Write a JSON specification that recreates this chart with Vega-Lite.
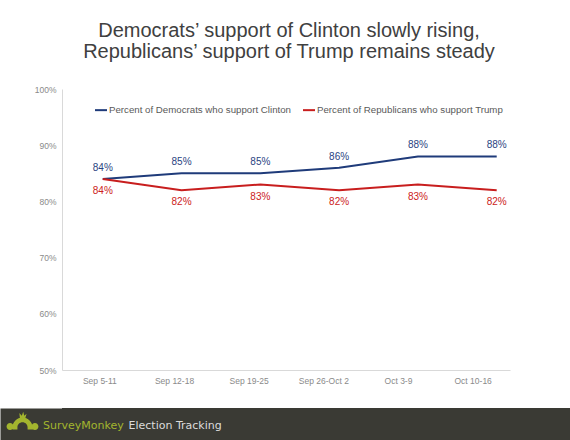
{
  "$schema": "https://vega.github.io/schema/vega-lite/v6.json",
  "background": "white",
  "padding": {"left": 0, "top": 21, "right": 0, "bottom": 0},
  "spacing": 23,
  "columns": 1,
  "align": "none",
  "resolve": {"scale": {"x": "independent", "y": "independent", "color": "independent"}},
  "config": {
    "view": {"stroke": null},
    "font": "Liberation Sans"
  },
  "datasets": {
    "poll": [
      {"week": "Sep 5-11", "series": "Percent of Democrats who support Clinton", "value": 0.84},
      {"week": "Sep 12-18", "series": "Percent of Democrats who support Clinton", "value": 0.85},
      {"week": "Sep 19-25", "series": "Percent of Democrats who support Clinton", "value": 0.85},
      {"week": "Sep 26-Oct 2", "series": "Percent of Democrats who support Clinton", "value": 0.86},
      {"week": "Oct 3-9", "series": "Percent of Democrats who support Clinton", "value": 0.88},
      {"week": "Oct 10-16", "series": "Percent of Democrats who support Clinton", "value": 0.88},
      {"week": "Sep 5-11", "series": "Percent of Republicans who support Trump", "value": 0.84},
      {"week": "Sep 12-18", "series": "Percent of Republicans who support Trump", "value": 0.82},
      {"week": "Sep 19-25", "series": "Percent of Republicans who support Trump", "value": 0.83},
      {"week": "Sep 26-Oct 2", "series": "Percent of Republicans who support Trump", "value": 0.82},
      {"week": "Oct 3-9", "series": "Percent of Republicans who support Trump", "value": 0.83},
      {"week": "Oct 10-16", "series": "Percent of Republicans who support Trump", "value": 0.82}
    ],
    "footer": [
      {"item": "logo"},
      {"item": "SurveyMonkey"},
      {"item": "Election Tracking"}
    ]
  },
  "concat": [
    {
      "width": 448,
      "height": 281,
      "data": {"name": "poll"},
      "title": {
        "text": ["Democrats’ support of Clinton slowly rising,", "Republicans’ support of Trump remains steady"],
        "fontSize": 20,
        "fontWeight": "normal",
        "font": "Liberation Sans",
        "color": "#404040",
        "lineHeight": 21,
        "anchor": "middle",
        "dx": 3,
        "offset": 23
      },
      "resolve": {"scale": {"x": "independent"}},
      "layer": [
        {
          "mark": {"type": "point", "opacity": 0},
          "encoding": {
            "x": {
              "field": "week", "type": "nominal",
              "sort": ["Sep 5-11", "Sep 12-18", "Sep 19-25", "Sep 26-Oct 2", "Oct 3-9", "Oct 10-16"],
              "scale": {"type": "point", "padding": 0.5},
              "axis": {
                "title": null, "ticks": false, "labelPadding": 6, "labelFontSize": 8.5,
                "labelColor": "#8a8a8a", "domainColor": "#d9d9d9", "labelAngle": 0,
                "labelFont": "Liberation Sans"
              }
            },
            "y": {
              "field": "value", "type": "quantitative",
              "scale": {"domain": [0.5, 1.0], "nice": false, "zero": false},
              "axis": {
                "title": null, "values": [0.5, 0.6, 0.7, 0.8, 0.9, 1.0], "format": ".0%",
                "grid": false, "ticks": false, "labelPadding": 6, "labelFontSize": 8.5,
                "labelColor": "#8a8a8a", "domainColor": "#d9d9d9", "minExtent": 62,
                "labelFont": "Liberation Sans"
              }
            }
          }
        },
        {
          "encoding": {
            "x": {
              "field": "week", "type": "nominal",
              "sort": ["Sep 5-11", "Sep 12-18", "Sep 19-25", "Sep 26-Oct 2", "Oct 3-9", "Oct 10-16"],
              "scale": {"type": "point", "padding": 0.343, "align": 0.754},
              "axis": null
            },
            "y": {"field": "value", "type": "quantitative"}
          },
          "layer": [
            {
              "mark": {"type": "line", "strokeWidth": 2},
              "encoding": {
                "color": {
                  "field": "series", "type": "nominal",
                  "scale": {
                    "domain": ["Percent of Democrats who support Clinton", "Percent of Republicans who support Trump"],
                    "range": ["#1f3b7a", "#c81e1e"]
                  },
                  "legend": {
                    "title": null, "orient": "none", "direction": "horizontal",
                    "legendX": 32, "legendY": 14,
                    "symbolType": "stroke", "symbolSize": 144, "symbolStrokeWidth": 2,
                    "labelFontSize": 9.7, "labelColor": "#595959", "labelOffset": 1,
                    "columnPadding": 8, "labelFont": "Liberation Sans", "labelLimit": 300
                  }
                }
              }
            },
            {
              "transform": [{"filter": "datum.series === 'Percent of Democrats who support Clinton'"}],
              "mark": {"type": "text", "dy": -11, "fontSize": 10, "color": "#2a4482", "font": "Liberation Sans"},
              "encoding": {"text": {"field": "value", "type": "quantitative", "format": ".0%"}}
            },
            {
              "transform": [{"filter": "datum.series === 'Percent of Republicans who support Trump'"}],
              "mark": {"type": "text", "dy": 12, "fontSize": 10, "color": "#cc2222", "font": "Liberation Sans"},
              "encoding": {"text": {"field": "value", "type": "quantitative", "format": ".0%"}}
            }
          ]
        }
      ]
    },
    {
      "width": 508,
      "height": 33,
      "data": {"name": "footer"},
      "view": {"fill": "#3a3a34", "stroke": null},
      "resolve": {"scale": {"x": "independent"}},
      "encoding": {
        "y": {
          "datum": "footer", "type": "nominal",
          "axis": {"title": null, "labels": false, "ticks": false, "domainColor": "#3a3a34", "domainWidth": 124, "domainCap": "butt"}
        },
        "color": {
          "field": "item", "type": "nominal",
          "scale": {"domain": ["logo", "SurveyMonkey", "Election Tracking"], "range": ["#a3b52e", "#a3b52e", "#dcdcdc"]},
          "legend": null
        }
      },
      "layer": [
        {
          "transform": [{"filter": "datum.item === 'logo'"}],
          "mark": {
            "type": "point", "filled": true, "opacity": 1, "size": 841, "dy": -2,
            "shape": "M -0.69 0.35 L -0.69 0.2 A 0.69 0.69 0 0 1 0.69 0.2 L 0.69 0.35 L 0.35 0.35 L 0.35 0.2 A 0.35 0.35 0 0 0 -0.35 0.2 L -0.35 0.35 Z M -1.1 0.14 A 0.24 0.24 0 1 1 -0.62 0.14 A 0.24 0.24 0 1 1 -1.1 0.14 Z M 0.62 0.14 A 0.24 0.24 0 1 1 1.1 0.14 A 0.24 0.24 0 1 1 0.62 0.14 Z M -0.18 -0.45 L -0.22 -0.8 L -0.05 -0.6 L 0.05 -0.88 L 0.12 -0.6 L 0.28 -0.75 L 0.2 -0.45 Z"
          },
          "encoding": {
            "x": {
              "field": "item", "type": "nominal",
              "scale": {"type": "point", "domain": ["logo"], "range": [-39.5, -39.5], "padding": 0},
              "axis": null
            }
          }
        },
        {
          "transform": [{"filter": "datum.item !== 'logo'"}],
          "mark": {"type": "text", "align": "left", "baseline": "middle", "fontSize": 11, "font": "DejaVu Sans", "dy": 1},
          "encoding": {
            "x": {
              "field": "item", "type": "nominal",
              "scale": {"type": "point", "domain": ["SurveyMonkey", "Election Tracking"], "range": [-19, 66.5], "padding": 0},
              "axis": null
            },
            "text": {"field": "item"}
          }
        }
      ]
    }
  ]
}
